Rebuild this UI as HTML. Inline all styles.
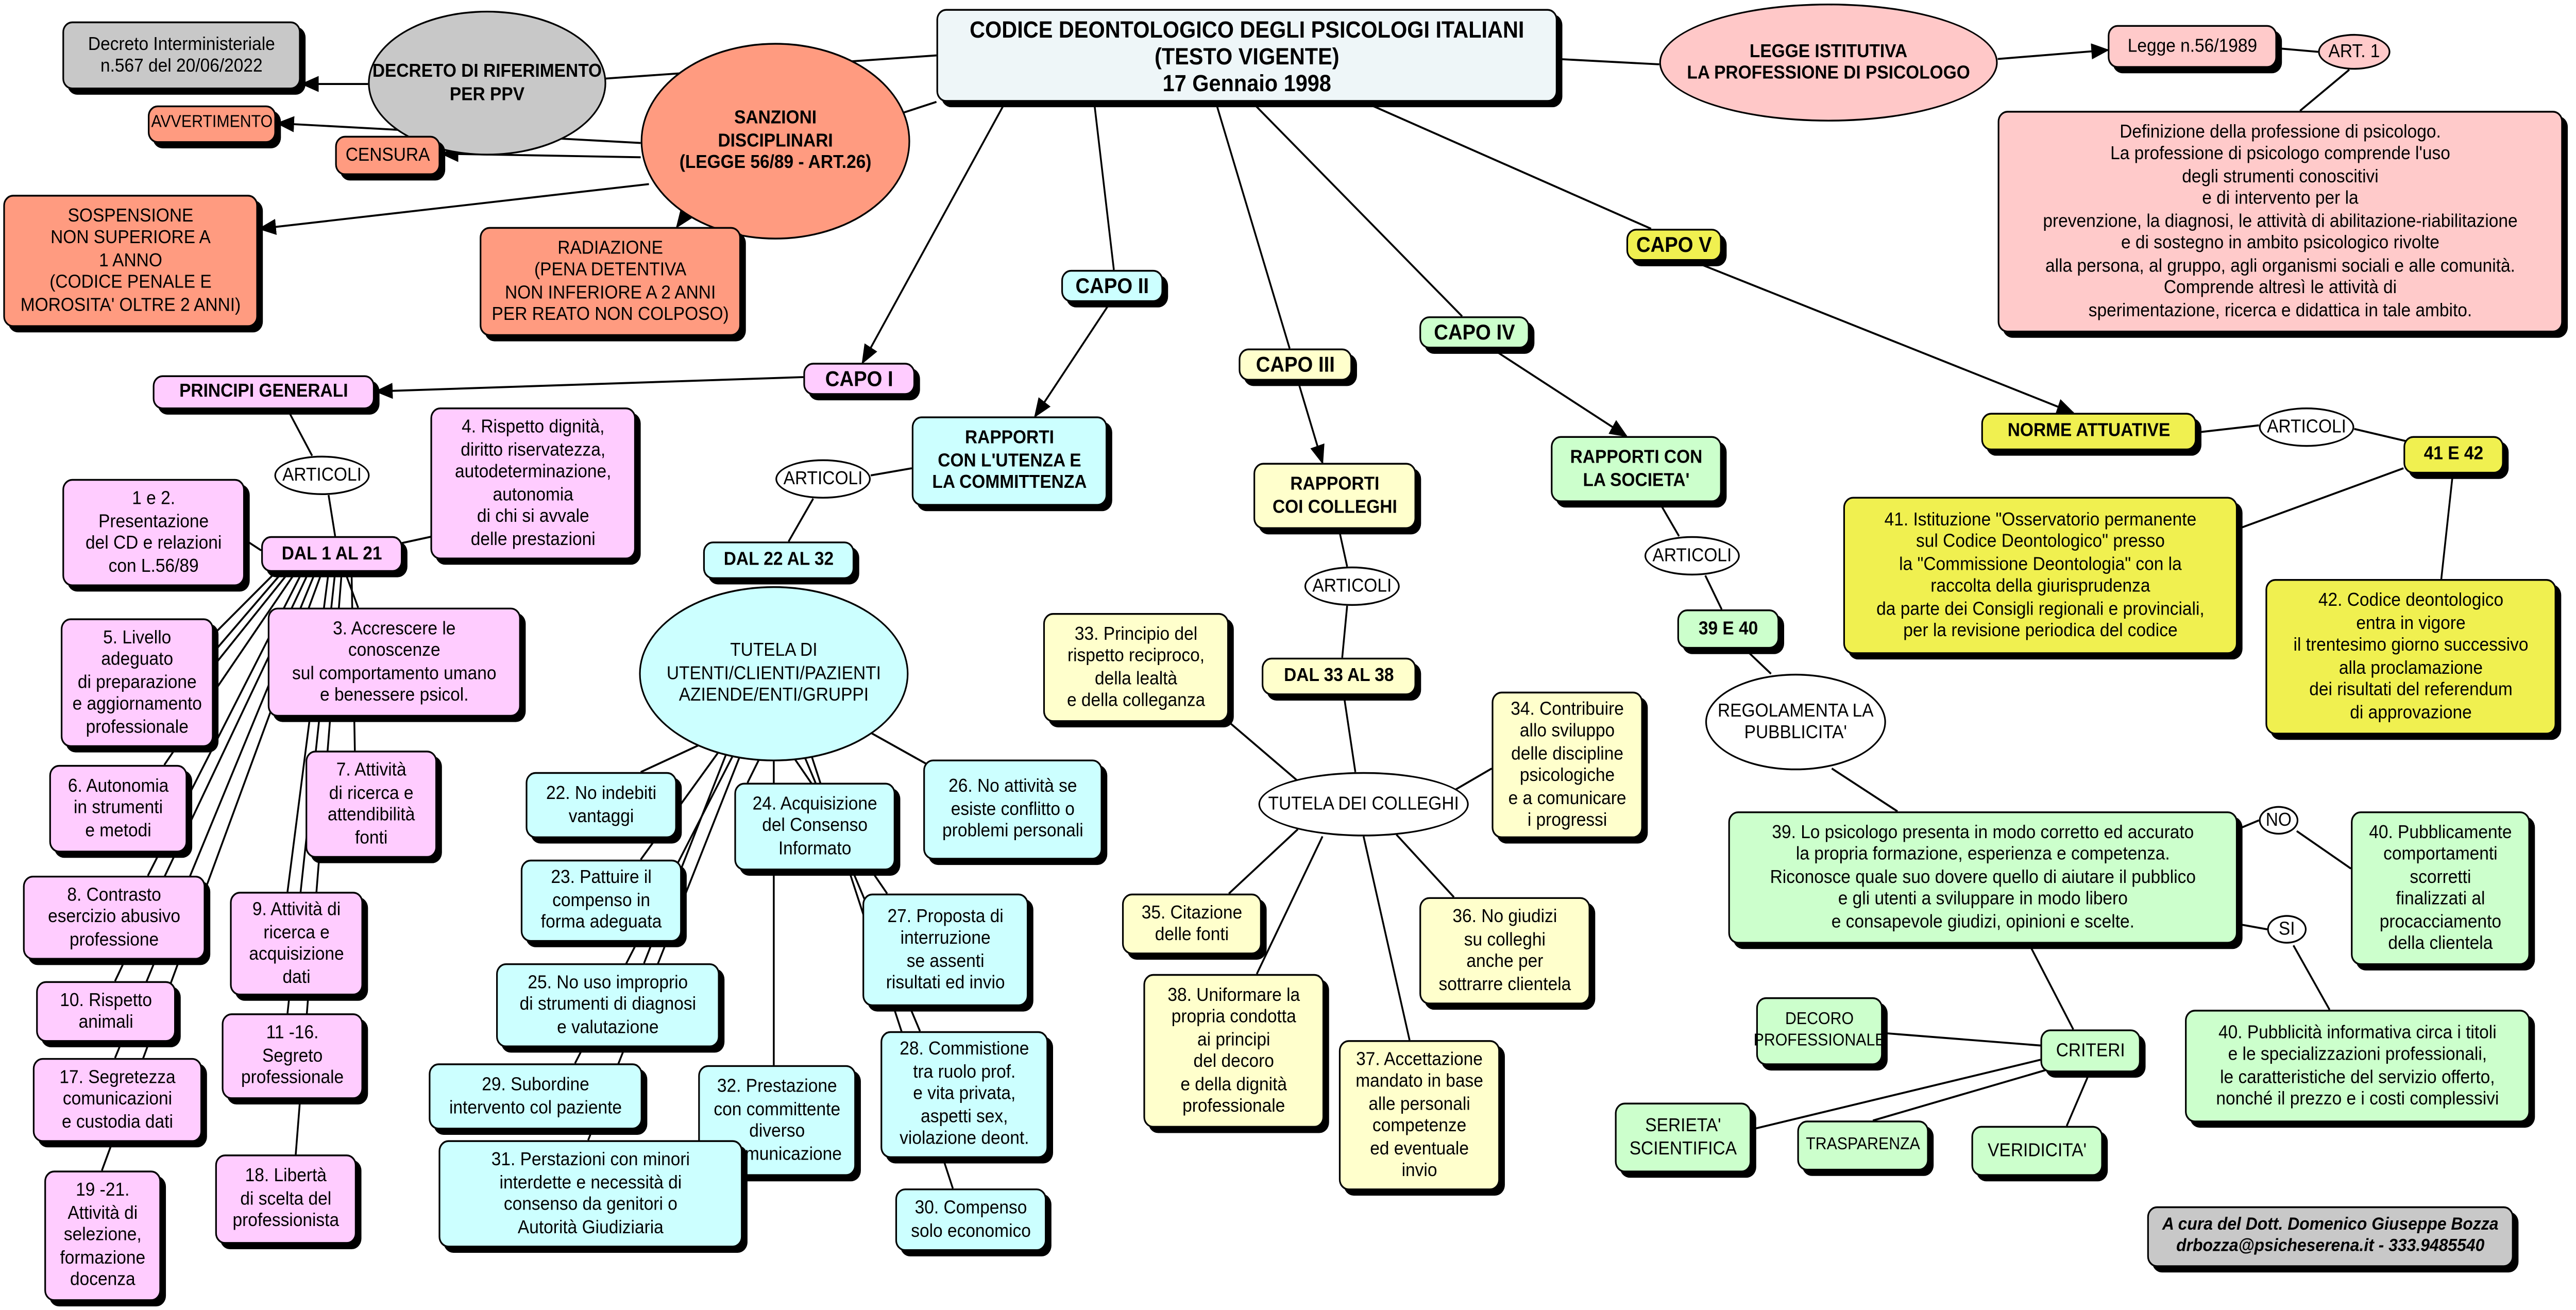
<!DOCTYPE html>
<html><head><meta charset="utf-8">
<style>
html,body{margin:0;padding:0;background:#fff;overflow:hidden;width:100vw;height:100vh;}
body{position:relative;}
#m{position:absolute;left:0;top:0;width:1568px;height:733px;transform:scale(3.192,3.192);transform-origin:0 0;font-family:"Liberation Sans",sans-serif;font-size:10.5px;line-height:12.5px;color:#000;overflow:hidden;}
#m svg{position:absolute;left:0;top:0;}
.b{position:absolute;box-sizing:border-box;display:flex;align-items:center;justify-content:center;text-align:center;border:1px solid #000;border-radius:6px;box-shadow:3px 3px 0 #000;white-space:nowrap;}
.e{position:absolute;box-sizing:border-box;display:flex;align-items:center;justify-content:center;text-align:center;border:1px solid #000;border-radius:50%;background:#fff;white-space:nowrap;}
.bd{font-weight:bold;}
.s{font-size:9.5px;}
.pk{background:#ffccff}.cy{background:#ccffff}.yl{background:#ffffcc}.gr{background:#ccffcc}.y5{background:#f0f050}.sa{background:#ff9b80}.gy{background:#c8c8c8}.rs{background:#ffcaca}
</style></head><body>
<div id="m">
<svg width="1568" height="733" viewBox="0 0 1568 733">
<defs><marker id="a" markerWidth="11" markerHeight="9" refX="10" refY="4.5" orient="auto" markerUnits="userSpaceOnUse"><path d="M0,0 L11,4.5 L0,9 z" fill="#000"/></marker></defs>
<g stroke="#000" stroke-width="1.1" fill="none">
<line x1="570" y1="31" x2="368" y2="44"/>
<line x1="224" y1="47" x2="184" y2="47" marker-end="url(#a)"/>
<line x1="570" y1="57" x2="550" y2="63"/>
<line x1="390" y1="80" x2="169" y2="69" marker-end="url(#a)"/>
<line x1="390" y1="88" x2="269" y2="86" marker-end="url(#a)"/>
<line x1="395" y1="103" x2="158" y2="128" marker-end="url(#a)"/>
<line x1="425" y1="110" x2="412" y2="127" marker-end="url(#a)"/>
<line x1="948" y1="33" x2="1010" y2="36"/>
<line x1="1216" y1="33" x2="1283" y2="28" marker-end="url(#a)"/>
<line x1="1386" y1="27" x2="1411" y2="29"/>
<line x1="1430" y1="39" x2="1400" y2="62"/>
<line x1="612" y1="57" x2="525" y2="203" marker-end="url(#a)"/>
<line x1="666" y1="57" x2="678" y2="151"/>
<line x1="740" y1="57" x2="785" y2="195"/>
<line x1="762" y1="57" x2="890" y2="177"/>
<line x1="830" y1="57" x2="1005" y2="128"/>
<line x1="489" y1="211" x2="229" y2="219" marker-end="url(#a)"/>
<line x1="175" y1="229" x2="190" y2="255"/>
<line x1="200" y1="277" x2="204" y2="300"/>
<line x1="244" y1="304" x2="264" y2="300"/>
<line x1="159" y1="308" x2="149" y2="302"/>
<line x1="168" y1="320" x2="130" y2="355"/>
<line x1="172" y1="320" x2="130" y2="365"/>
<line x1="176" y1="320" x2="128" y2="375"/>
<line x1="210" y1="320" x2="218" y2="340"/>
<line x1="180" y1="320" x2="100" y2="428"/>
<line x1="184" y1="320" x2="90" y2="490"/>
<line x1="188" y1="320" x2="70" y2="549"/>
<line x1="192" y1="320" x2="70" y2="592"/>
<line x1="196" y1="320" x2="62" y2="655"/>
<line x1="200" y1="320" x2="175" y2="499"/>
<line x1="204" y1="320" x2="175" y2="567"/>
<line x1="208" y1="320" x2="180" y2="646"/>
<line x1="214" y1="320" x2="216" y2="420"/>
<line x1="676" y1="169" x2="630" y2="233" marker-end="url(#a)"/>
<line x1="555" y1="262" x2="530" y2="266"/>
<line x1="495" y1="279" x2="480" y2="303"/>
<line x1="430" y1="415" x2="390" y2="432"/>
<line x1="438" y1="420" x2="390" y2="481"/>
<line x1="442" y1="422" x2="392" y2="539"/>
<line x1="446" y1="423" x2="350" y2="595"/>
<line x1="450" y1="424" x2="358" y2="638"/>
<line x1="462" y1="425" x2="455" y2="438"/>
<line x1="471" y1="426" x2="471" y2="596"/>
<line x1="484" y1="425" x2="540" y2="500"/>
<line x1="490" y1="424" x2="560" y2="577"/>
<line x1="494" y1="423" x2="580" y2="665"/>
<line x1="530" y1="410" x2="565" y2="428"/>
<line x1="790" y1="213" x2="805" y2="259" marker-end="url(#a)"/>
<line x1="815" y1="296" x2="820" y2="317"/>
<line x1="820" y1="339" x2="817" y2="368"/>
<line x1="818" y1="389" x2="825" y2="432"/>
<line x1="790" y1="437" x2="748" y2="404"/>
<line x1="880" y1="445" x2="908" y2="430"/>
<line x1="790" y1="464" x2="748" y2="500"/>
<line x1="850" y1="467" x2="885" y2="502"/>
<line x1="805" y1="468" x2="765" y2="545"/>
<line x1="830" y1="468" x2="858" y2="582"/>
<line x1="908" y1="195" x2="990" y2="244" marker-end="url(#a)"/>
<line x1="1010" y1="281" x2="1022" y2="300"/>
<line x1="1038" y1="322" x2="1048" y2="341"/>
<line x1="1062" y1="363" x2="1078" y2="377"/>
<line x1="1115" y1="430" x2="1155" y2="454"/>
<line x1="1362" y1="464" x2="1375" y2="459"/>
<line x1="1398" y1="465" x2="1431" y2="486"/>
<line x1="1362" y1="517" x2="1380" y2="520"/>
<line x1="1396" y1="529" x2="1418" y2="565"/>
<line x1="1235" y1="528" x2="1262" y2="576"/>
<line x1="1242" y1="585" x2="1146" y2="578"/>
<line x1="1242" y1="593" x2="1066" y2="632"/>
<line x1="1248" y1="598" x2="1140" y2="627"/>
<line x1="1272" y1="600" x2="1258" y2="630"/>
<line x1="1030" y1="146" x2="1262" y2="231" marker-end="url(#a)"/>
<line x1="1337" y1="242" x2="1375" y2="238"/>
<line x1="1433" y1="240" x2="1470" y2="248"/>
<line x1="1463" y1="262" x2="1362" y2="296"/>
<line x1="1493" y1="265" x2="1486" y2="324"/>
</g></svg>

<div class="b gy" style="left:38px;top:12px;width:145px;height:38px;">Decreto Interministeriale<br>n.567 del 20/06/2022</div>
<div class="e gy bd" style="left:224px;top:6px;width:145px;height:81px;background:#c8c8c8;">DECRETO DI RIFERIMENTO<br>PER PPV</div>
<div class="b bd" style="left:570px;top:5px;width:378px;height:52px;background:#eef6f8;font-size:13px;line-height:15px;">CODICE DEONTOLOGICO DEGLI PSICOLOGI ITALIANI<br>(TESTO VIGENTE)<br>17 Gennaio 1998</div>
<div class="e bd" style="left:1010px;top:2px;width:206px;height:66px;background:#ffc8c8;">LEGGE ISTITUTIVA<br>LA PROFESSIONE DI PSICOLOGO</div>
<div class="b rs" style="left:1283px;top:14px;width:103px;height:24px;">Legge n.56/1989</div>
<div class="e" style="left:1411px;top:19px;width:44px;height:20px;background:#ffcaca;">ART. 1</div>
<div class="b rs" style="left:1216px;top:62px;width:344px;height:124px;">Definizione della professione di psicologo.<br>La professione di psicologo comprende l'uso<br>degli strumenti conoscitivi<br>e di intervento per la<br>prevenzione, la diagnosi, le attività di abilitazione-riabilitazione<br>e di sostegno in ambito psicologico rivolte<br>alla persona, al gruppo, agli organismi sociali e alle comunità.<br>Comprende altresì le attività di<br>sperimentazione, ricerca e didattica in tale ambito.</div>
<div class="e sa bd" style="left:390px;top:24px;width:164px;height:110px;">SANZIONI<br>DISCIPLINARI<br>(LEGGE 56/89 - ART.26)</div>
<div class="b sa s" style="left:90px;top:59px;width:78px;height:21px;">AVVERTIMENTO</div>
<div class="b sa" style="left:204px;top:76px;width:64px;height:22px;">CENSURA</div>
<div class="b sa" style="left:2px;top:109px;width:155px;height:74px;">SOSPENSIONE<br>NON SUPERIORE A<br>1 ANNO<br>(CODICE PENALE E<br>MOROSITA' OLTRE 2 ANNI)</div>
<div class="b sa" style="left:292px;top:127px;width:159px;height:61px;">RADIAZIONE<br>(PENA DETENTIVA<br>NON INFERIORE A 2 ANNI<br>PER REATO NON COLPOSO)</div>

<div class="b pk bd" style="left:489px;top:203px;width:68px;height:18px;font-size:12px;">CAPO I</div>
<div class="b cy bd" style="left:646px;top:151px;width:62px;height:18px;font-size:12px;">CAPO II</div>
<div class="b yl bd" style="left:754px;top:195px;width:69px;height:18px;font-size:12px;">CAPO III</div>
<div class="b gr bd" style="left:864px;top:177px;width:67px;height:18px;font-size:12px;">CAPO IV</div>
<div class="b y5 bd" style="left:990px;top:128px;width:58px;height:18px;font-size:12px;">CAPO V</div>

<div class="b pk bd" style="left:93px;top:210px;width:135px;height:19px;">PRINCIPI GENERALI</div>
<div class="e" style="left:167px;top:255px;width:58px;height:22px;">ARTICOLI</div>
<div class="b pk bd" style="left:159px;top:300px;width:86px;height:20px;">DAL 1 AL 21</div>
<div class="b pk" style="left:262px;top:228px;width:125px;height:85px;">4. Rispetto dignità,<br>diritto riservatezza,<br>autodeterminazione,<br>autonomia<br>di chi si avvale<br>delle prestazioni</div>
<div class="b pk" style="left:38px;top:268px;width:111px;height:60px;">1 e 2.<br>Presentazione<br>del CD e relazioni<br>con L.56/89</div>
<div class="b pk" style="left:37px;top:346px;width:93px;height:72px;">5. Livello<br>adeguato<br>di preparazione<br>e aggiornamento<br>professionale</div>
<div class="b pk" style="left:163px;top:340px;width:154px;height:61px;">3. Accrescere le<br>conoscenze<br>sul comportamento umano<br>e benessere psicol.</div>
<div class="b pk" style="left:30px;top:428px;width:84px;height:49px;">6. Autonomia<br>in strumenti<br>e metodi</div>
<div class="b pk" style="left:186px;top:420px;width:80px;height:60px;">7. Attività<br>di ricerca e<br>attendibilità<br>fonti</div>
<div class="b pk" style="left:14px;top:490px;width:111px;height:47px;">8. Contrasto<br>esercizio abusivo<br>professione</div>
<div class="b pk" style="left:140px;top:499px;width:81px;height:58px;">9. Attività di<br>ricerca e<br>acquisizione<br>dati</div>
<div class="b pk" style="left:22px;top:549px;width:85px;height:34px;">10. Rispetto<br>animali</div>
<div class="b pk" style="left:135px;top:567px;width:86px;height:48px;">11 -16.<br>Segreto<br>professionale</div>
<div class="b pk" style="left:20px;top:592px;width:103px;height:47px;">17. Segretezza<br>comunicazioni<br>e custodia dati</div>
<div class="b pk" style="left:131px;top:646px;width:86px;height:50px;">18. Libertà<br>di scelta del<br>professionista</div>
<div class="b pk" style="left:27px;top:655px;width:71px;height:73px;">19 -21.<br>Attività di<br>selezione,<br>formazione<br>docenza</div>

<div class="b cy bd" style="left:555px;top:233px;width:119px;height:50px;">RAPPORTI<br>CON L'UTENZA E<br>LA COMMITTENZA</div>
<div class="e" style="left:472px;top:257px;width:58px;height:22px;">ARTICOLI</div>
<div class="b cy bd" style="left:428px;top:303px;width:92px;height:21px;">DAL 22 AL 32</div>
<div class="e cy" style="left:389px;top:328px;width:164px;height:98px;background:#ccffff;">TUTELA DI<br>UTENTI/CLIENTI/PAZIENTI<br>AZIENDE/ENTI/GRUPPI</div>
<div class="b cy" style="left:320px;top:432px;width:92px;height:37px;">22. No indebiti<br>vantaggi</div>
<div class="b cy" style="left:447px;top:438px;width:98px;height:49px;">24. Acquisizione<br>del Consenso<br>Informato</div>
<div class="b cy" style="left:562px;top:425px;width:109px;height:56px;">26. No attività se<br>esiste conflitto o<br>problemi personali</div>
<div class="b cy" style="left:317px;top:481px;width:98px;height:46px;">23. Pattuire il<br>compenso in<br>forma adeguata</div>
<div class="b cy" style="left:525px;top:500px;width:101px;height:63px;">27. Proposta di<br>interruzione<br>se assenti<br>risultati ed invio</div>
<div class="b cy" style="left:302px;top:539px;width:136px;height:47px;">25. No uso improprio<br>di strumenti di diagnosi<br>e valutazione</div>
<div class="b cy" style="left:261px;top:595px;width:130px;height:37px;">29. Subordine<br>intervento col paziente</div>
<div class="b cy" style="left:425px;top:596px;width:96px;height:62px;">32. Prestazione<br>con committente<br>diverso<br>e comunicazione</div>
<div class="b cy" style="left:536px;top:577px;width:102px;height:71px;">28. Commistione<br>tra ruolo prof.<br>e vita privata,<br>aspetti sex,<br>violazione deont.</div>
<div class="b cy" style="left:267px;top:638px;width:185px;height:60px;">31. Perstazioni con minori<br>interdette e necessità di<br>consenso da genitori o<br>Autorità Giudiziaria</div>
<div class="b cy" style="left:545px;top:665px;width:92px;height:35px;">30. Compenso<br>solo economico</div>

<div class="b yl bd" style="left:763px;top:259px;width:99px;height:37px;">RAPPORTI<br>COI COLLEGHI</div>
<div class="e" style="left:794px;top:317px;width:58px;height:22px;">ARTICOLI</div>
<div class="b yl bd" style="left:768px;top:368px;width:94px;height:21px;">DAL 33 AL 38</div>
<div class="b yl" style="left:635px;top:343px;width:113px;height:61px;">33. Principio del<br>rispetto reciproco,<br>della lealtà<br>e della colleganza</div>
<div class="e" style="left:766px;top:432px;width:128px;height:36px;">TUTELA DEI COLLEGHI</div>
<div class="b yl" style="left:908px;top:387px;width:92px;height:82px;">34. Contribuire<br>allo sviluppo<br>delle discipline<br>psicologiche<br>e a comunicare<br>i progressi</div>
<div class="b yl" style="left:683px;top:500px;width:85px;height:34px;">35. Citazione<br>delle fonti</div>
<div class="b yl" style="left:864px;top:502px;width:104px;height:60px;">36. No giudizi<br>su colleghi<br>anche per<br>sottrarre clientela</div>
<div class="b yl" style="left:696px;top:545px;width:110px;height:86px;">38. Uniformare la<br>propria condotta<br>ai principi<br>del decoro<br>e della dignità<br>professionale</div>
<div class="b yl" style="left:815px;top:582px;width:98px;height:84px;">37. Accettazione<br>mandato in base<br>alle personali<br>competenze<br>ed eventuale<br>invio</div>

<div class="b gr bd" style="left:944px;top:244px;width:104px;height:37px;">RAPPORTI CON<br>LA SOCIETA'</div>
<div class="e" style="left:1001px;top:300px;width:58px;height:22px;">ARTICOLI</div>
<div class="b gr bd" style="left:1021px;top:341px;width:62px;height:22px;">39 E 40</div>
<div class="e" style="left:1038px;top:377px;width:110px;height:54px;">REGOLAMENTA LA<br>PUBBLICITA'</div>
<div class="b gr" style="left:1052px;top:454px;width:310px;height:74px;">39. Lo psicologo presenta in modo corretto ed accurato<br>la propria formazione, esperienza e competenza.<br>Riconosce quale suo dovere quello di aiutare il pubblico<br>e gli utenti a sviluppare in modo libero<br>e consapevole giudizi, opinioni e scelte.</div>
<div class="e" style="left:1375px;top:451px;width:24px;height:16px;">NO</div>
<div class="e" style="left:1380px;top:512px;width:24px;height:16px;">SI</div>
<div class="b gr" style="left:1431px;top:454px;width:109px;height:86px;">40. Pubblicamente<br>comportamenti<br>scorretti<br>finalizzati al<br>procacciamento<br>della clientela</div>
<div class="b gr" style="left:1330px;top:565px;width:210px;height:63px;">40. Pubblicità informativa circa i titoli<br>e le specializzazioni professionali,<br>le caratteristiche del servizio offerto,<br>nonché il prezzo e i costi complessivi</div>
<div class="b gr" style="left:1242px;top:576px;width:61px;height:24px;">CRITERI</div>
<div class="b gr s" style="left:1069px;top:558px;width:77px;height:38px;">DECORO<br>PROFESSIONALE</div>
<div class="b gr" style="left:983px;top:617px;width:83px;height:39px;">SERIETA'<br>SCIENTIFICA</div>
<div class="b gr s" style="left:1094px;top:627px;width:80px;height:28px;">TRASPARENZA</div>
<div class="b gr" style="left:1200px;top:630px;width:80px;height:28px;">VERIDICITA'</div>
<div class="b gy bd" style="left:1307px;top:675px;width:223px;height:34px;font-style:italic;font-size:10px;">A cura del Dott. Domenico Giuseppe Bozza<br>drbozza@psicheserena.it - 333.9485540</div>

<div class="b y5 bd" style="left:1206px;top:231px;width:131px;height:21px;">NORME ATTUATIVE</div>
<div class="e" style="left:1375px;top:228px;width:58px;height:22px;">ARTICOLI</div>
<div class="b y5 bd" style="left:1463px;top:244px;width:61px;height:21px;">41 E 42</div>
<div class="b y5" style="left:1122px;top:278px;width:240px;height:88px;">41. Istituzione "Osservatorio permanente<br>sul Codice Deontologico" presso<br>la "Commissione Deontologia" con la<br>raccolta della giurisprudenza<br>da parte dei Consigli regionali e provinciali,<br>per la revisione periodica del codice</div>
<div class="b y5" style="left:1379px;top:324px;width:177px;height:87px;">42. Codice deontologico<br>entra in vigore<br>il trentesimo giorno successivo<br>alla proclamazione<br>dei risultati del referendum<br>di approvazione</div>
</div>
<script>
(function(){var m=document.getElementById('m');var w=window.innerWidth||document.documentElement.clientWidth;var h=window.innerHeight||document.documentElement.clientHeight;if(w>100&&h>100){m.style.transform='scale('+(w/1568)+','+(h/733)+')';}})();
</script>
</body></html>
